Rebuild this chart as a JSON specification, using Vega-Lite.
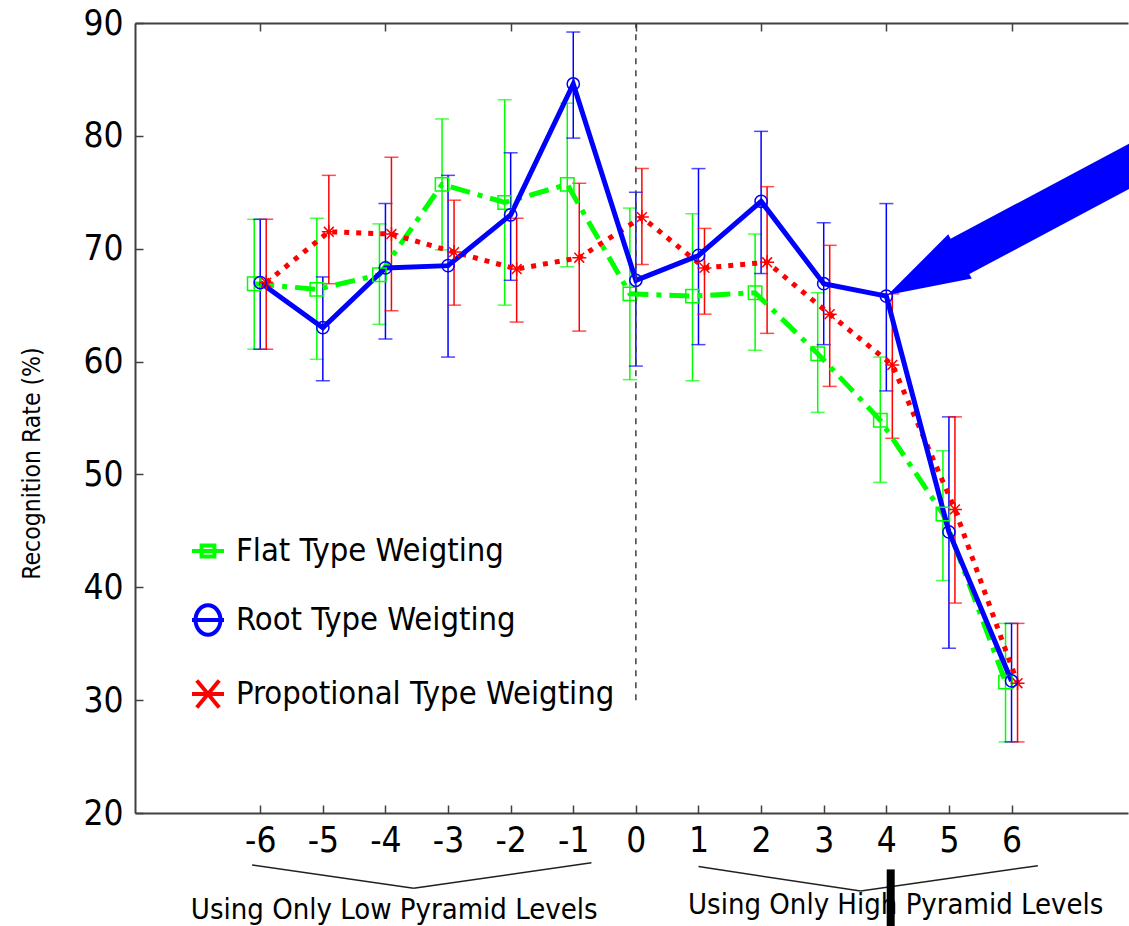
{
  "$schema": "https://vega.github.io/schema/vega-lite/v6.json",
  "width": 993,
  "height": 790,
  "autosize": "none",
  "padding": {"left": 135, "top": 23, "right": 1, "bottom": 113},
  "background": "white",
  "config": {
    "view": {"stroke": null},
    "font": "DejaVu Sans Condensed, Liberation Sans, sans-serif",
    "axis": {
      "grid": false,
      "domainColor": "#404040",
      "domainWidth": 2,
      "tickColor": "#404040",
      "tickWidth": 1.5,
      "tickSize": -8,
      "labelFont": "DejaVu Sans Condensed, Liberation Sans, sans-serif",
      "labelColor": "#000000",
      "labelFontSize": 35,
      "titleFont": "DejaVu Sans Condensed, Liberation Sans, sans-serif",
      "titleColor": "#000000",
      "titleFontWeight": "normal"
    },
    "axisLeft": {
      "labelPadding": 20,
      "titleFontSize": 24.5,
      "titleX": -103,
      "titleY": 440,
      "titleAlign": "center",
      "titleBaseline": "middle",
      "titleAngle": -90
    },
    "axisBottom": {"labelPadding": 18},
    "legend": {
      "orient": "none",
      "labelFont": "DejaVu Sans Condensed, Liberation Sans, sans-serif",
      "labelFontSize": 32.5,
      "labelColor": "#000000",
      "labelLimit": 0,
      "labelOffset": 10,
      "symbolSize": 1024,
      "symbolStrokeWidth": 4,
      "rowPadding": 29,
      "padding": 0
    }
  },
  "datasets": {
    "acc": [
      {"level": -6, "series": "Flat Type Weigting", "rate": 66.9, "lo": 61.1, "hi": 72.6},
      {"level": -5, "series": "Flat Type Weigting", "rate": 66.4, "lo": 60.2, "hi": 72.7},
      {"level": -4, "series": "Flat Type Weigting", "rate": 67.7, "lo": 63.3, "hi": 72.2},
      {"level": -3, "series": "Flat Type Weigting", "rate": 75.7, "lo": 69.9, "hi": 81.5},
      {"level": -2, "series": "Flat Type Weigting", "rate": 74.1, "lo": 65.0, "hi": 83.2},
      {"level": -1, "series": "Flat Type Weigting", "rate": 75.7, "lo": 68.4, "hi": 82.9},
      {"level": 0, "series": "Flat Type Weigting", "rate": 66.0, "lo": 58.4, "hi": 73.6},
      {"level": 1, "series": "Flat Type Weigting", "rate": 65.8, "lo": 58.3, "hi": 73.1},
      {"level": 2, "series": "Flat Type Weigting", "rate": 66.1, "lo": 61.0, "hi": 71.3},
      {"level": 3, "series": "Flat Type Weigting", "rate": 60.7, "lo": 55.5, "hi": 66.1},
      {"level": 4, "series": "Flat Type Weigting", "rate": 54.8, "lo": 49.3, "hi": 60.4},
      {"level": 5, "series": "Flat Type Weigting", "rate": 46.5, "lo": 40.6, "hi": 52.1},
      {"level": 6, "series": "Flat Type Weigting", "rate": 31.6, "lo": 26.3, "hi": 36.8},
      {"level": -6, "series": "Root Type Weigting", "rate": 67.0, "lo": 61.1, "hi": 72.6},
      {"level": -5, "series": "Root Type Weigting", "rate": 63.0, "lo": 58.3, "hi": 67.5},
      {"level": -4, "series": "Root Type Weigting", "rate": 68.3, "lo": 62.0, "hi": 74.0},
      {"level": -3, "series": "Root Type Weigting", "rate": 68.5, "lo": 60.4, "hi": 76.5},
      {"level": -2, "series": "Root Type Weigting", "rate": 73.0, "lo": 67.2, "hi": 78.5},
      {"level": -1, "series": "Root Type Weigting", "rate": 84.6, "lo": 79.8, "hi": 89.2},
      {"level": 0, "series": "Root Type Weigting", "rate": 67.2, "lo": 59.6, "hi": 75.0},
      {"level": 1, "series": "Root Type Weigting", "rate": 69.4, "lo": 61.5, "hi": 77.1},
      {"level": 2, "series": "Root Type Weigting", "rate": 74.2, "lo": 67.8, "hi": 80.4},
      {"level": 3, "series": "Root Type Weigting", "rate": 66.9, "lo": 61.5, "hi": 72.3},
      {"level": 4, "series": "Root Type Weigting", "rate": 65.8, "lo": 57.4, "hi": 74.0},
      {"level": 5, "series": "Root Type Weigting", "rate": 44.9, "lo": 34.6, "hi": 55.1},
      {"level": 6, "series": "Root Type Weigting", "rate": 31.7, "lo": 26.3, "hi": 36.8},
      {"level": -6, "series": "Propotional Type Weigting", "rate": 67.0, "lo": 61.1, "hi": 72.6},
      {"level": -5, "series": "Propotional Type Weigting", "rate": 71.5, "lo": 66.9, "hi": 76.5},
      {"level": -4, "series": "Propotional Type Weigting", "rate": 71.3, "lo": 64.5, "hi": 78.1},
      {"level": -3, "series": "Propotional Type Weigting", "rate": 69.7, "lo": 65.0, "hi": 74.3},
      {"level": -2, "series": "Propotional Type Weigting", "rate": 68.2, "lo": 63.5, "hi": 72.7},
      {"level": -1, "series": "Propotional Type Weigting", "rate": 69.2, "lo": 62.7, "hi": 75.8},
      {"level": 0, "series": "Propotional Type Weigting", "rate": 72.8, "lo": 68.6, "hi": 77.1},
      {"level": 1, "series": "Propotional Type Weigting", "rate": 68.3, "lo": 64.2, "hi": 71.8},
      {"level": 2, "series": "Propotional Type Weigting", "rate": 68.8, "lo": 62.5, "hi": 75.5},
      {"level": 3, "series": "Propotional Type Weigting", "rate": 64.2, "lo": 57.8, "hi": 70.3},
      {"level": 4, "series": "Propotional Type Weigting", "rate": 59.7, "lo": 53.2, "hi": 66.0},
      {"level": 5, "series": "Propotional Type Weigting", "rate": 46.9, "lo": 38.6, "hi": 55.1},
      {"level": 6, "series": "Propotional Type Weigting", "rate": 31.5, "lo": 26.3, "hi": 36.8}
    ]
  },
  "data": {"name": "acc"},
  "layer": [
    {
      "transform": [{"filter": "datum.series === 'Flat Type Weigting'"}],
      "mark": {"type": "rule", "color": "#00ff00", "strokeWidth": 1.5, "xOffset": -6},
      "encoding": {
        "x": {"field": "level", "type": "quantitative",
          "scale": {"domain": [-8, 7.86], "nice": false, "zero": false},
          "axis": {"orient": "bottom", "title": null, "values": [-6, -5, -4, -3, -2, -1, 0, 1, 2, 3, 4, 5, 6],
            "labelExpr": "'' + datum.value"}},
        "y": {"field": "lo", "type": "quantitative",
          "scale": {"domain": [20, 90], "nice": false, "zero": false},
          "axis": {"title": "Recognition Rate (%)", "values": [20, 30, 40, 50, 60, 70, 80, 90]}},
        "y2": {"field": "hi"}
      }
    },
    {
      "transform": [{"filter": "datum.series === 'Flat Type Weigting'"}, {"fold": ["lo", "hi"], "as": ["end", "v"]}],
      "mark": {"type": "tick", "orient": "horizontal", "color": "#00ff00", "size": 14, "thickness": 1.5, "xOffset": -6},
      "encoding": {
        "x": {"field": "level", "type": "quantitative", "axis": null},
        "y": {"field": "v", "type": "quantitative"}
      }
    },
    {
      "transform": [{"filter": "datum.series === 'Root Type Weigting'"}],
      "mark": {"type": "rule", "color": "#0000ff", "strokeWidth": 1.5},
      "encoding": {
        "x": {"field": "level", "type": "quantitative", "axis": null},
        "y": {"field": "lo", "type": "quantitative"},
        "y2": {"field": "hi"}
      }
    },
    {
      "transform": [{"filter": "datum.series === 'Root Type Weigting'"}, {"fold": ["lo", "hi"], "as": ["end", "v"]}],
      "mark": {"type": "tick", "orient": "horizontal", "color": "#0000ff", "size": 14, "thickness": 1.5},
      "encoding": {
        "x": {"field": "level", "type": "quantitative", "axis": null},
        "y": {"field": "v", "type": "quantitative"}
      }
    },
    {
      "transform": [{"filter": "datum.series === 'Propotional Type Weigting'"}],
      "mark": {"type": "rule", "color": "#ff0000", "strokeWidth": 1.5, "xOffset": 6},
      "encoding": {
        "x": {"field": "level", "type": "quantitative", "axis": null},
        "y": {"field": "lo", "type": "quantitative"},
        "y2": {"field": "hi"}
      }
    },
    {
      "transform": [{"filter": "datum.series === 'Propotional Type Weigting'"}, {"fold": ["lo", "hi"], "as": ["end", "v"]}],
      "mark": {"type": "tick", "orient": "horizontal", "color": "#ff0000", "size": 14, "thickness": 1.5, "xOffset": 6},
      "encoding": {
        "x": {"field": "level", "type": "quantitative", "axis": null},
        "y": {"field": "v", "type": "quantitative"}
      }
    },
    {
      "transform": [{"filter": "datum.series === 'Flat Type Weigting'"}],
      "mark": {"type": "line", "color": "#00ff00", "strokeWidth": 5, "strokeDash": [20, 8, 5, 8], "xOffset": -6},
      "encoding": {
        "x": {"field": "level", "type": "quantitative", "axis": null},
        "y": {"field": "rate", "type": "quantitative"}
      }
    },
    {
      "transform": [{"filter": "datum.series === 'Propotional Type Weigting'"}],
      "mark": {"type": "line", "color": "#ff0000", "strokeWidth": 5, "strokeDash": [5, 7], "xOffset": 6},
      "encoding": {
        "x": {"field": "level", "type": "quantitative", "axis": null},
        "y": {"field": "rate", "type": "quantitative"}
      }
    },
    {
      "transform": [{"filter": "datum.series === 'Root Type Weigting'"}],
      "mark": {"type": "line", "color": "#0000ff", "strokeWidth": 5},
      "encoding": {
        "x": {"field": "level", "type": "quantitative", "axis": null},
        "y": {"field": "rate", "type": "quantitative"}
      }
    },
    {
      "transform": [{"filter": "datum.series === 'Flat Type Weigting'"}],
      "mark": {"type": "point", "shape": "square", "size": 180, "filled": false, "color": "#00ff00", "strokeWidth": 1.5, "opacity": 1, "xOffset": -6},
      "encoding": {
        "x": {"field": "level", "type": "quantitative", "axis": null},
        "y": {"field": "rate", "type": "quantitative"}
      }
    },
    {
      "transform": [{"filter": "datum.series === 'Propotional Type Weigting'"}],
      "mark": {"type": "point", "shape": "M-1,0H1M0,-1V1M-0.7,-0.7L0.7,0.7M-0.7,0.7L0.7,-0.7", "size": 196, "filled": false, "color": "#ff0000", "strokeWidth": 1.5, "opacity": 1, "xOffset": 6},
      "encoding": {
        "x": {"field": "level", "type": "quantitative", "axis": null},
        "y": {"field": "rate", "type": "quantitative"}
      }
    },
    {
      "transform": [{"filter": "datum.series === 'Root Type Weigting'"}],
      "mark": {"type": "point", "shape": "circle", "size": 150, "filled": false, "color": "#0000ff", "strokeWidth": 1.5, "opacity": 1},
      "encoding": {
        "x": {"field": "level", "type": "quantitative", "axis": null},
        "y": {"field": "rate", "type": "quantitative"}
      }
    },
    {
      "transform": [{"filter": "datum.level > 99"}],
      "mark": {"type": "point", "filled": false, "opacity": 1},
      "encoding": {
        "x": {"field": "level", "type": "quantitative", "axis": null},
        "y": {"field": "rate", "type": "quantitative"},
        "color": {"field": "series", "type": "nominal",
          "scale": {"domain": ["Flat Type Weigting", "Root Type Weigting", "Propotional Type Weigting"], "range": ["#00ff00", "#0000ff", "#ff0000"]},
          "legend": {"title": null, "legendX": 55, "legendY": 510}},
        "shape": {"field": "series", "type": "nominal",
          "scale": {"domain": ["Flat Type Weigting", "Root Type Weigting", "Propotional Type Weigting"],
            "range": ["M-1,0H1M-0.4,-0.34H0.4V0.34H-0.4Z", "M-0.78,0A0.78,0.92 0 1,1 0.78,0A0.78,0.92 0 1,1 -0.78,0ZM-1,0H1", "M-1,0H1M-0.7,-0.85L0.7,0.85M-0.7,0.85L0.7,-0.85"]},
          "legend": {"title": null, "legendX": 55, "legendY": 510}}
      }
    },
    {
      "data": {"values": [{}]},
      "mark": {"type": "rule", "color": "#404040", "strokeWidth": 1.5, "strokeDash": [6, 6]},
      "encoding": {
        "x": {"datum": 0, "type": "quantitative",
          "axis": {"orient": "top", "title": null, "labels": false, "values": [-6, -4, -2, 0, 2, 4, 6]}},
        "y": {"datum": 30, "type": "quantitative"},
        "y2": {"datum": 90}
      }
    },
    {
      "data": {"values": [{}]},
      "mark": {"type": "rule", "color": "#202020", "strokeWidth": 1.5},
      "encoding": {
        "x": {"datum": -6.13, "type": "quantitative", "axis": null},
        "y": {"datum": 15.4, "type": "quantitative"},
        "x2": {"datum": -3.55},
        "y2": {"datum": 13.33}
      }
    },
    {
      "data": {"values": [{}]},
      "mark": {"type": "rule", "color": "#202020", "strokeWidth": 1.5},
      "encoding": {
        "x": {"datum": -3.55, "type": "quantitative", "axis": null},
        "y": {"datum": 13.33, "type": "quantitative"},
        "x2": {"datum": -0.71},
        "y2": {"datum": 15.6}
      }
    },
    {
      "data": {"values": [{}]},
      "mark": {"type": "rule", "color": "#202020", "strokeWidth": 1.5},
      "encoding": {
        "x": {"datum": 1.0, "type": "quantitative", "axis": null},
        "y": {"datum": 15.25, "type": "quantitative"},
        "x2": {"datum": 3.59},
        "y2": {"datum": 13.09}
      }
    },
    {
      "data": {"values": [{}]},
      "mark": {"type": "rule", "color": "#202020", "strokeWidth": 1.5},
      "encoding": {
        "x": {"datum": 3.59, "type": "quantitative", "axis": null},
        "y": {"datum": 13.09, "type": "quantitative"},
        "x2": {"datum": 6.42},
        "y2": {"datum": 15.33}
      }
    },
    {
      "data": {"values": [{}]},
      "mark": {"type": "text", "text": "Using Only Low Pyramid Levels", "font": "DejaVu Sans Condensed, Liberation Sans, sans-serif", "fontSize": 29, "align": "center", "baseline": "middle", "color": "#000000"},
      "encoding": {
        "x": {"datum": -3.86, "type": "quantitative", "axis": null},
        "y": {"datum": 11.41, "type": "quantitative"}
      }
    },
    {
      "data": {"values": [{}]},
      "mark": {"type": "text", "text": "Using Only High Pyramid Levels", "font": "DejaVu Sans Condensed, Liberation Sans, sans-serif", "fontSize": 29, "align": "center", "baseline": "middle", "color": "#000000"},
      "encoding": {
        "x": {"datum": 4.15, "type": "quantitative", "axis": null},
        "y": {"datum": 11.85, "type": "quantitative"}
      }
    },
    {
      "data": {"values": [{}]},
      "mark": {"type": "rule", "color": "#000000", "strokeWidth": 8},
      "encoding": {
        "x": {"datum": 4.07, "type": "quantitative", "axis": null},
        "y": {"datum": 15.0, "type": "quantitative"},
        "y2": {"datum": 9.5}
      }
    },
    {
      "data": {"values": [{}]},
      "mark": {"type": "rule", "color": "#0000ff", "strokeWidth": 40, "strokeCap": "butt"},
      "encoding": {
        "x": {"datum": 5.079, "type": "quantitative", "axis": null},
        "y": {"datum": 69.03, "type": "quantitative"},
        "x2": {"datum": 8.379},
        "y2": {"datum": 78.79}
      }
    },
    {
      "data": {"values": [{}]},
      "mark": {"type": "point", "shape": "M-1,0L1,-0.61L1,0.61Z", "size": 6724, "angle": 332, "filled": true, "color": "#0000ff", "opacity": 1, "strokeWidth": 0},
      "encoding": {
        "x": {"datum": 4.598, "type": "quantitative", "axis": null},
        "y": {"datum": 67.61, "type": "quantitative"}
      }
    }
  ]
}
